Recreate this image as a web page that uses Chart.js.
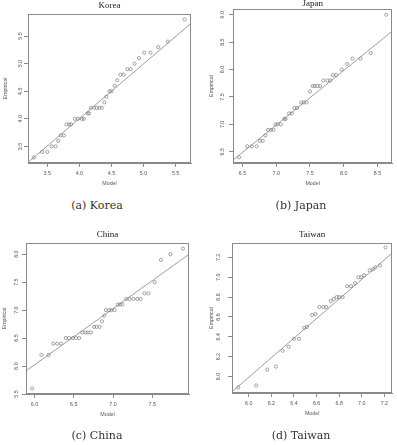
<!DOCTYPE html>
<html>
<head>
<meta charset="utf-8">
<script src="https://cdn.jsdelivr.net/npm/chart.js@4/dist/chart.umd.min.js"></script>
<style>
  body { margin: 0; background: #fff; }
  #fig { position: relative; width: 397px; height: 445px; overflow: hidden; }
  canvas { position: absolute; }
  .cap { position: absolute; width: 140px; margin-left: -70px; text-align: center;
         font-family: "DejaVu Serif", serif; font-size: 11px; color: #333; line-height: 12px; }
</style>
</head>
<body>
<div id="fig">
  <canvas id="korea" width="199" height="195" style="left:0;top:0"></canvas>
  <canvas id="japan" width="199" height="195" style="left:198px;top:0"></canvas>
  <canvas id="china" width="199" height="210" style="left:0;top:220px"></canvas>
  <canvas id="taiwan" width="199" height="210" style="left:198px;top:220px"></canvas>
  <div class="cap" style="left:97px;top:200px">(a) Korea</div>
  <div class="cap" style="left:301px;top:200px">(b) Japan</div>
  <div class="cap" style="left:97px;top:430px">(c) China</div>
  <div class="cap" style="left:301px;top:430px">(d) Taiwan</div>
</div>
<script>
// Korea
const koreaModel = [3.29, 3.42, 3.50, 3.57, 3.63, 3.67, 3.71, 3.76, 3.80, 3.84, 3.87, 3.93, 3.98, 4.04, 4.07, 4.13, 4.15, 4.18, 4.23, 4.27, 4.31, 4.35, 4.39, 4.42, 4.47, 4.50, 4.55, 4.59, 4.64, 4.69, 4.75, 4.80, 4.86, 4.93, 5.01, 5.11, 5.23, 5.38, 5.64];
const koreaEmp = [3.3, 3.4, 3.4, 3.5, 3.5, 3.6, 3.7, 3.7, 3.9, 3.9, 3.9, 4.0, 4.0, 4.0, 4.0, 4.1, 4.1, 4.2, 4.2, 4.2, 4.2, 4.2, 4.3, 4.4, 4.5, 4.5, 4.6, 4.7, 4.8, 4.8, 4.9, 4.9, 5.0, 5.1, 5.2, 5.2, 5.3, 5.4, 5.8];
const koreaLineX = [3.2, 5.74];
const koreaLineY = [3.21, 5.73];
const koreaXTicks = [3.5, 4.0, 4.5, 5.0, 5.5];
const koreaYTicks = [3.5, 4.0, 4.5, 5.0, 5.5];

// Japan
const japanModel = [6.45, 6.57, 6.64, 6.71, 6.76, 6.80, 6.84, 6.88, 6.92, 6.96, 6.99, 7.02, 7.07, 7.12, 7.14, 7.19, 7.23, 7.27, 7.31, 7.37, 7.41, 7.45, 7.50, 7.54, 7.57, 7.61, 7.65, 7.70, 7.76, 7.80, 7.84, 7.89, 7.97, 8.05, 8.13, 8.25, 8.40, 8.63];
const japanEmp = [6.4, 6.6, 6.6, 6.6, 6.7, 6.7, 6.8, 6.9, 6.9, 6.9, 7.0, 7.0, 7.0, 7.1, 7.1, 7.2, 7.2, 7.3, 7.3, 7.4, 7.4, 7.4, 7.6, 7.7, 7.7, 7.7, 7.7, 7.8, 7.8, 7.8, 7.9, 7.9, 8.0, 8.1, 8.2, 8.2, 8.3, 9.0];
const japanLineX = [6.36, 8.72];
const japanLineY = [6.35, 8.70];
const japanXTicks = [6.5, 7.0, 7.5, 8.0, 8.5];
const japanYTicks = [6.5, 7.0, 7.5, 8.0, 8.5, 9.0];

// China
const chinaModel = [5.97, 6.09, 6.18, 6.24, 6.29, 6.34, 6.40, 6.44, 6.49, 6.53, 6.57, 6.61, 6.65, 6.68, 6.72, 6.76, 6.79, 6.83, 6.86, 6.89, 6.91, 6.95, 6.98, 7.02, 7.06, 7.09, 7.12, 7.17, 7.21, 7.26, 7.31, 7.35, 7.40, 7.45, 7.53, 7.61, 7.73, 7.89];
const chinaEmp = [5.6, 6.2, 6.2, 6.4, 6.4, 6.4, 6.5, 6.5, 6.5, 6.5, 6.5, 6.6, 6.6, 6.6, 6.6, 6.7, 6.7, 6.7, 6.8, 6.9, 7.0, 7.0, 7.0, 7.0, 7.1, 7.1, 7.1, 7.2, 7.2, 7.2, 7.2, 7.2, 7.3, 7.3, 7.5, 7.9, 8.0, 8.1];
const chinaLineX = [5.89, 7.97];
const chinaLineY = [5.91, 8.0];
const chinaXTicks = [6.0, 6.5, 7.0, 7.5];
const chinaYTicks = [5.5, 6.0, 6.5, 7.0, 7.5, 8.0];

// Taiwan
const taiwanModel = [5.907, 6.065, 6.164, 6.24, 6.30, 6.353, 6.40, 6.445, 6.49, 6.515, 6.56, 6.59, 6.625, 6.66, 6.686, 6.726, 6.752, 6.779, 6.80, 6.83, 6.87, 6.905, 6.94, 6.97, 6.995, 7.02, 7.07, 7.10, 7.12, 7.16, 7.21];
const taiwanEmp = [5.89, 5.91, 6.07, 6.10, 6.26, 6.30, 6.38, 6.38, 6.49, 6.50, 6.62, 6.63, 6.70, 6.70, 6.70, 6.76, 6.78, 6.80, 6.80, 6.80, 6.91, 6.91, 6.94, 7.00, 7.00, 7.02, 7.07, 7.08, 7.10, 7.12, 7.30];
const taiwanLineX = [5.852, 7.27];
const taiwanLineY = [5.846, 7.245];
const taiwanXTicks = [6.0, 6.2, 6.4, 6.6, 6.8, 7.0, 7.2];
const taiwanYTicks = [6.0, 6.2, 6.4, 6.6, 6.8, 7.0, 7.2];

const axisColor = '#8a8a8a';
const textColor = '#555';
const smallFont = { family: 'Liberation Sans, Arial, sans-serif', size: 5.3 };

// box round the plot region and the R style title above it
const framePlugin = {
    id: 'frame',
    afterDraw(chart, args, opts) {
        const a = chart.chartArea;
        const ctx = chart.ctx;
        ctx.save();
        ctx.strokeStyle = axisColor;
        ctx.lineWidth = 1;
        ctx.strokeRect(Math.round(a.left) + 0.5, Math.round(a.top) + 0.5,
                       Math.round(a.right - a.left) - 1, Math.round(a.bottom - a.top) - 1);
        ctx.fillStyle = '#222';
        ctx.font = '9px "Liberation Serif", "Times New Roman", serif';
        ctx.textAlign = 'center';
        ctx.textBaseline = 'middle';
        ctx.fillText(opts.text, (a.left + a.right) / 2, opts.y);
        ctx.restore();
    }
};

function makePanel(id, p) {
    const canvas = document.getElementById(id);
    const W = canvas.width, H = canvas.height;
    const pts = p.model.map((x, i) => ({ x: x, y: p.emp[i] }));
    const line = p.lineX.map((x, i) => ({ x: x, y: p.lineY[i] }));

    return new Chart(canvas, {
        type: 'scatter',
        data: {
            datasets: [
                {
                    data: pts,
                    pointStyle: 'circle',
                    pointRadius: 1.6,
                    pointBorderWidth: 0.7,
                    pointBackgroundColor: 'rgba(0,0,0,0)',
                    pointBorderColor: '#7d7d7d'
                },
                {
                    type: 'line',
                    data: line,
                    borderColor: '#8b92b0',
                    borderWidth: 0.9,
                    pointRadius: 0,
                    fill: false
                }
            ]
        },
        options: {
            responsive: false,
            animation: false,
            layout: {
                padding: { left: 0, top: p.T, right: W - p.R, bottom: H - p.B - 25 }
            },
            plugins: {
                legend: { display: false },
                tooltip: { enabled: false },
                frame: { text: p.title, y: p.titleY }
            },
            scales: {
                x: {
                    type: 'linear',
                    min: p.xMin, max: p.xMax,
                    afterBuildTicks: s => { s.ticks = p.xTicks.map(v => ({ value: v })); },
                    afterFit: s => { s.height = 25; },
                    grid: { drawOnChartArea: false, tickLength: 4, color: axisColor, tickWidth: 1 },
                    border: { color: axisColor },
                    ticks: {
                        font: smallFont, color: textColor, padding: 3,
                        maxRotation: 0, autoSkip: false,
                        callback: v => v.toFixed(1)
                    },
                    title: {
                        display: true, text: 'Model', font: smallFont, color: textColor,
                        padding: { top: 0, bottom: 1 }
                    }
                },
                y: {
                    type: 'linear',
                    min: p.yMin, max: p.yMax,
                    afterBuildTicks: s => { s.ticks = p.yTicks.map(v => ({ value: v })); },
                    afterFit: s => { s.width = p.L; },
                    grid: { drawOnChartArea: false, tickLength: 4, color: axisColor, tickWidth: 1 },
                    border: { color: axisColor },
                    ticks: {
                        font: smallFont, color: textColor, padding: p.yPad,
                        minRotation: 90, maxRotation: 90, crossAlign: 'center', autoSkip: false,
                        callback: v => v.toFixed(1)
                    },
                    title: {
                        display: true, text: 'Empirical', font: smallFont, color: textColor,
                        padding: { top: p.yTitlePad, bottom: 0 }
                    }
                }
            }
        },
        plugins: [framePlugin]
    });
}

makePanel('korea', {
    title: 'Korea', titleY: 6,
    model: koreaModel, emp: koreaEmp, lineX: koreaLineX, lineY: koreaLineY,
    xTicks: koreaXTicks, yTicks: koreaYTicks,
    xMin: 3.2, xMax: 5.74, yMin: 3.2, yMax: 5.9,
    L: 28, T: 14, R: 191, B: 163, yPad: -0.4, yTitlePad: 2.5
});

makePanel('japan', {
    title: 'Japan', titleY: 4,
    model: japanModel, emp: japanEmp, lineX: japanLineX, lineY: japanLineY,
    xTicks: japanXTicks, yTicks: japanYTicks,
    xMin: 6.36, xMax: 8.72, yMin: 6.296, yMax: 9.104,
    L: 35, T: 9, R: 197, B: 163, yPad: 2.3, yTitlePad: 10.8
});

makePanel('china', {
    title: 'China', titleY: 14.7,
    model: chinaModel, emp: chinaEmp, lineX: chinaLineX, lineY: chinaLineY,
    xTicks: chinaXTicks, yTicks: chinaYTicks,
    xMin: 5.893, xMax: 7.967, yMin: 5.5, yMax: 8.2,
    L: 26, T: 23, R: 189, B: 174, yPad: 1.6, yTitlePad: 1.5
});

makePanel('taiwan', {
    title: 'Taiwan', titleY: 14.7,
    model: taiwanModel, emp: taiwanEmp, lineX: taiwanLineX, lineY: taiwanLineY,
    xTicks: taiwanXTicks, yTicks: taiwanYTicks,
    xMin: 5.852, xMax: 7.27, yMin: 5.834, yMax: 7.345,
    L: 34, T: 23, R: 196, B: 173, yPad: 5.6, yTitlePad: 10.1
});
</script>
</body>
</html>
